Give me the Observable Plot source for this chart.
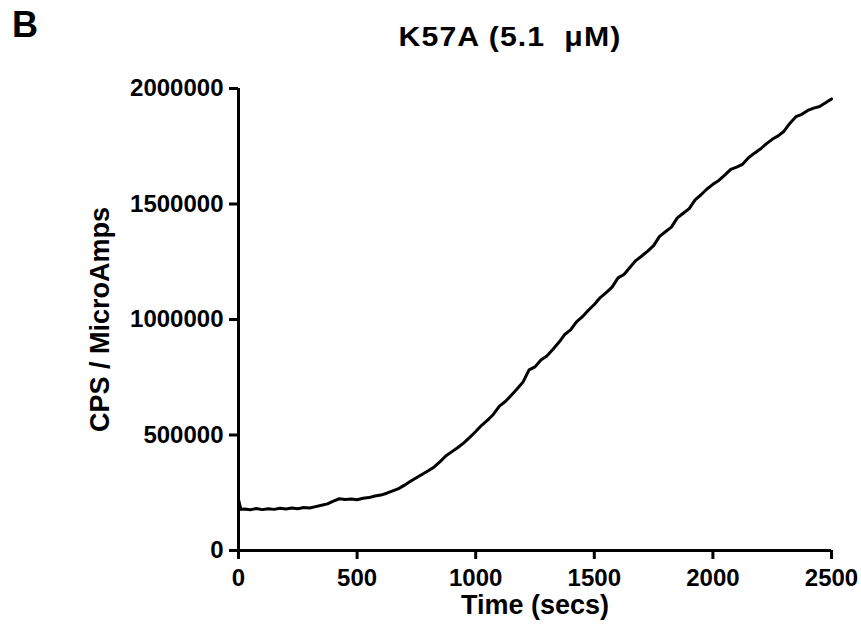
<!DOCTYPE html>
<html>
<head>
<meta charset="utf-8">
<script src="https://cdn.jsdelivr.net/npm/d3@7"></script>
<script src="https://cdn.jsdelivr.net/npm/@observablehq/plot@0.6"></script>
<style>
  html, body { margin: 0; padding: 0; background: #fff; }
  #wrap { position: relative; width: 861px; height: 633px; font-family: "Liberation Sans", Arial, sans-serif; font-weight: bold; color: #000; }
  #header { position: relative; width: 861px; height: 70px; }
  #panel { position: absolute; left: 12px; top: 3px; font-size: 36px; line-height: 44px; }
  #title { position: absolute; left: 0; width: 1020px; top: 20px; text-align: center; font-size: 27px; line-height: 34px; letter-spacing: 1px; white-space: pre; transform: scaleX(1.12); transform-origin: 510px 0; }
  svg { display: block; }
</style>
</head>
<body>
<div id="wrap">
  <div id="header"><div id="panel"></div><div id="title"></div></div>
  <div id="chart"></div>
</div>
<script>
const panelLabel = "B";
const chartTitle = "K57A (5.1  \u03bcM)";
const xLabel = "Time (secs)";
const yLabel = "CPS / MicroAmps";
const xTicks = [0, 500, 1000, 1500, 2000, 2500];
const yTicks = [0, 500000, 1000000, 1500000, 2000000];

const timeSecs = [0, 10, 25, 50, 75, 100, 125, 150, 175, 200, 225, 250, 275, 300, 325, 350, 375, 400, 425, 450, 475, 500,
  525, 550, 575, 600, 625, 650, 675, 700, 725, 750, 775, 800, 825, 850, 875, 900, 925, 950, 975, 1000,
  1025, 1050, 1075, 1100, 1125, 1150, 1175, 1200, 1225, 1250, 1275, 1300, 1325, 1350, 1375, 1400, 1425, 1450, 1475, 1500,
  1525, 1550, 1575, 1600, 1625, 1650, 1675, 1700, 1725, 1750, 1775, 1800, 1825, 1850, 1875, 1900, 1925, 1950, 1975, 2000,
  2025, 2050, 2075, 2100, 2125, 2150, 2175, 2200, 2225, 2250, 2275, 2300, 2325, 2350, 2375, 2400, 2425, 2450, 2475, 2500];
const cpsPerMicroAmp = [220000, 178000, 180000, 176000, 182000, 177000, 181000, 178000, 183000, 180000, 184000, 181000, 186000, 184000, 190000, 196000, 202000, 214000, 224000, 221000, 223000, 220000,
  226000, 229000, 236000, 240000, 248000, 258000, 268000, 283000, 300000, 315000, 330000, 345000, 362000, 385000, 410000, 428000, 446000, 466000, 490000, 515000,
  542000, 564000, 590000, 625000, 645000, 672000, 700000, 730000, 782000, 795000, 825000, 842000, 870000, 900000, 935000, 955000, 990000, 1012000, 1040000, 1065000,
  1095000, 1116000, 1140000, 1180000, 1195000, 1225000, 1255000, 1275000, 1296000, 1320000, 1360000, 1380000, 1400000, 1440000, 1460000, 1480000, 1518000, 1540000, 1565000, 1585000,
  1602000, 1625000, 1650000, 1660000, 1672000, 1700000, 1720000, 1738000, 1760000, 1780000, 1795000, 1815000, 1850000, 1878000, 1888000, 1905000, 1915000, 1922000, 1938000, 1955000];

document.getElementById("panel").textContent = panelLabel;
document.getElementById("title").textContent = chartTitle;

const data = timeSecs.map((t, i) => ({t, v: cpsPerMicroAmp[i]}));

const chart = Plot.plot({
  width: 861,
  height: 563,
  marginTop: 18,
  marginBottom: 83,
  marginLeft: 238,
  marginRight: 30,
  style: {fontFamily: "'Liberation Sans', Arial, sans-serif", fontWeight: "bold", color: "#000", background: "#fff"},
  x: {domain: [0, 2500]},
  y: {domain: [0, 2000000]},
  marks: [
    Plot.axisX({ticks: xTicks, tickFormat: d => String(d), tickSize: 9, tickPadding: 9, fontSize: 24, strokeWidth: 3, label: null}),
    Plot.axisY({ticks: yTicks, tickFormat: d => String(d), tickSize: 9, tickPadding: 6, fontSize: 24, strokeWidth: 3, label: null}),
    Plot.ruleY([0], {stroke: "#000", strokeWidth: 3}),
    Plot.ruleX([0], {stroke: "#000", strokeWidth: 3}),
    Plot.line(data, {x: "t", y: "v", stroke: "#000", strokeWidth: 3}),
    Plot.text([xLabel], {frameAnchor: "bottom", dy: 63, fontSize: 27, text: d => d}),
    Plot.text([yLabel], {frameAnchor: "left", textAnchor: "middle", dx: -138, rotate: -90, fontSize: 27, text: d => d})
  ]
});
document.getElementById("chart").appendChild(chart);
</script>
</body>
</html>
